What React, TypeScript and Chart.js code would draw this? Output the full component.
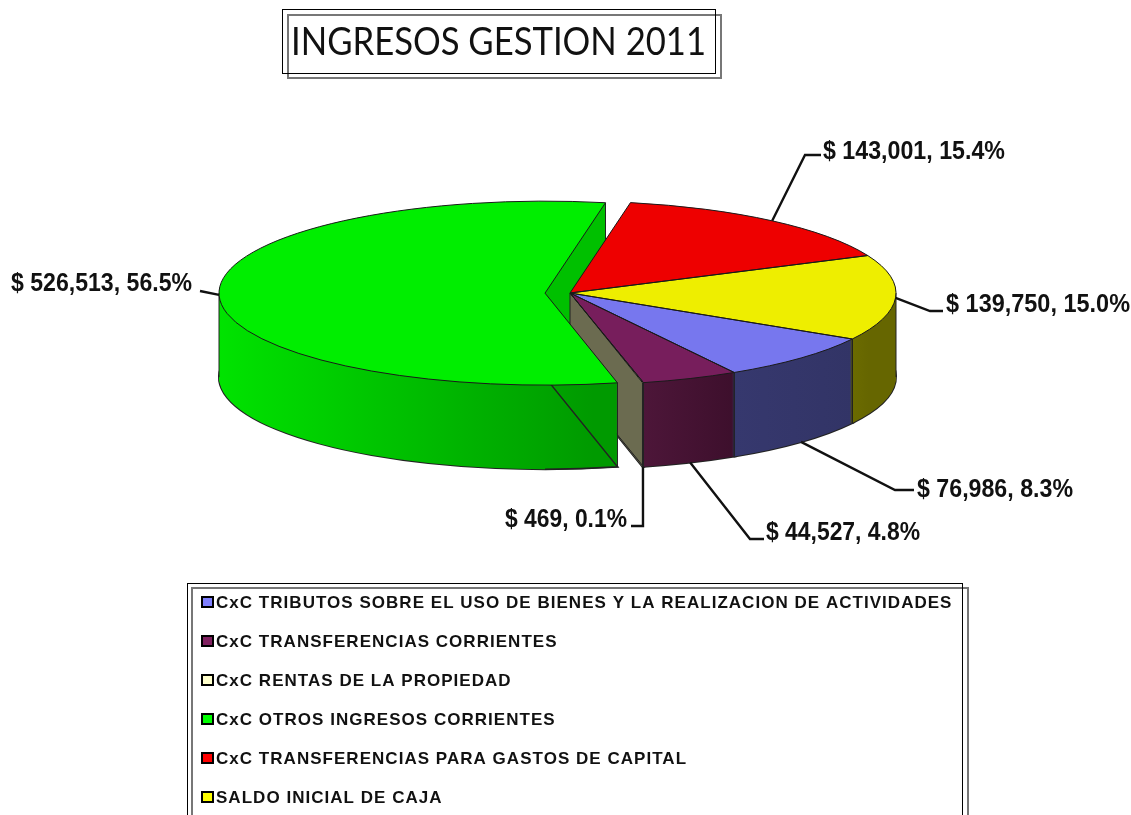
import React, { useEffect, useRef } from "react";
import { Chart, registerables } from "chart.js";

Chart.register(...registerables);

const chartTitle = "INGRESOS GESTION 2011";
const categories = [
  "CxC TRIBUTOS SOBRE EL USO DE BIENES Y LA REALIZACION DE ACTIVIDADES",
  "CxC TRANSFERENCIAS CORRIENTES",
  "CxC RENTAS DE LA PROPIEDAD",
  "CxC OTROS INGRESOS CORRIENTES",
  "CxC TRANSFERENCIAS PARA GASTOS DE CAPITAL",
  "SALDO INICIAL DE CAJA",
];
const values = [76986, 44527, 469, 526513, 143001, 139750];
const percents = ["8.3", "4.8", "0.1", "56.5", "15.4", "15.0"];

const topColors = ["#7777EE", "#771E5C", "#EEEEBE", "#00EE00", "#EE0000", "#EEEE00"];
const legendColors = ["#8080FF", "#802060", "#FFFFCC", "#00FF00", "#FF0000", "#FFFF00"];
const wallStops: string[][] = [
  ["#36386e", "#323466"],
  ["#4d1639", "#3d0f2c"],
  ["#6b6b50", "#6b6b50"],
  ["#00e800", "#009a00"],
  ["#900000", "#900000"],
  ["#6b6b00", "#666600"],
];
const explodePx = [0, 0, 0, 25, 0, 0];
const cutFaceColor = "#00C000";
const gapFaceColor = "#6b6b50";

const labelLayout = [
  { textX: 917, baseline: 497, width: 156, elbowX: 895, elbowY: 490, endX: 914 },
  { textX: 766, baseline: 540, width: 154, elbowX: 750, elbowY: 539, endX: 764 },
  { textX: 505, baseline: 527, width: 122, elbowX: 643, elbowY: 526, endX: 631 },
  { textX: 11, baseline: 291, width: 181, elbowX: 200, elbowY: 291, endX: 200 },
  { textX: 823, baseline: 159, width: 182, elbowX: 805, elbowY: 155, endX: 821 },
  { textX: 946, baseline: 312, width: 184, elbowX: 930, elbowY: 311, endX: 943 },
];

const squash = 92 / 326;
const depth = 84;
const LABEL_FONT = "bold 25px 'Liberation Sans'";
const LEGEND_FONT = "bold 17px 'Liberation Sans'";

function money(v: number) {
  return "$ " + v.toLocaleString("en-US") + ", ";
}

const pie3d = {
  id: "pie3d",
  beforeDatasetsDraw(chart: any) {
    const ctx: CanvasRenderingContext2D = chart.ctx;
    const arcs: any[] = chart.getDatasetMeta(0).data;
    const cy = arcs[0].y;

    const flat = (dy: number, fn: () => void) => {
      ctx.save();
      ctx.translate(0, cy + dy);
      ctx.scale(1, squash);
      ctx.translate(0, -cy);
      fn();
      ctx.restore();
    };
    const geom = (i: number) => {
      const a = arcs[i];
      const mid = (a.startAngle + a.endAngle) / 2;
      return {
        a,
        ox: a.x + Math.cos(mid) * explodePx[i],
        oy: cy + Math.sin(mid) * explodePx[i] * squash,
      };
    };
    const rim = (i: number, angle: number) => {
      const g = geom(i);
      return {
        x: g.ox + Math.cos(angle) * g.a.outerRadius,
        y: g.oy + Math.sin(angle) * g.a.outerRadius * squash,
      };
    };
    const drawFill = (i: number, dy: number, fill: any) => {
      const a = arcs[i];
      const mid = (a.startAngle + a.endAngle) / 2;
      const orig = a.options;
      a.options = { ...orig, backgroundColor: fill, borderWidth: 0 };
      flat(dy, () => {
        ctx.translate(Math.cos(mid) * explodePx[i], Math.sin(mid) * explodePx[i]);
        a.draw(ctx);
      });
      a.options = orig;
    };
    const slicePath = (i: number, dy: number) => {
      const a = arcs[i];
      const mid = (a.startAngle + a.endAngle) / 2;
      ctx.beginPath();
      flat(dy, () => {
        ctx.translate(Math.cos(mid) * explodePx[i], Math.sin(mid) * explodePx[i]);
        ctx.arc(a.x, a.y, a.outerRadius, a.startAngle, a.endAngle);
        ctx.lineTo(a.x, a.y);
        ctx.closePath();
      });
    };
    const vLine = (p: { x: number; y: number }) => {
      ctx.beginPath();
      ctx.moveTo(p.x, p.y);
      ctx.lineTo(p.x, p.y + depth);
      ctx.stroke();
    };

    const walls = arcs.map((a, i) => {
      const r = a.outerRadius;
      const gx0 = explodePx[i] ? a.x - r - explodePx[i] : rim(i, a.endAngle).x;
      const gx1 = rim(i, a.startAngle).x;
      const g = ctx.createLinearGradient(Math.min(gx0, gx1), 0, Math.max(gx0, gx1) + 1, 0);
      g.addColorStop(0, wallStops[i][0]);
      g.addColorStop(1, wallStops[i][1]);
      return g;
    });

    const boom = explodePx.findIndex((e) => e > 0);
    const stack = (i: number) => {
      for (let dy = depth; dy > 0; dy--) drawFill(i, dy, walls[i]);
    };

    // bottom outline
    ctx.strokeStyle = "#222";
    ctx.lineWidth = 2;
    arcs.forEach((_, i) => {
      slicePath(i, depth);
      ctx.stroke();
    });

    // stacked walls of the main body
    for (let dy = depth; dy > 0; dy--) {
      arcs.forEach((_, i) => {
        if (i !== boom) drawFill(i, dy, walls[i]);
      });
    }

    // exploded slice: walls and end cut face
    stack(boom);
    const g = geom(boom);
    const bA = arcs[boom];
    const endP = rim(boom, bA.endAngle);
    ctx.beginPath();
    ctx.moveTo(g.ox, g.oy);
    ctx.lineTo(endP.x, endP.y);
    ctx.lineTo(endP.x, endP.y + depth);
    ctx.lineTo(g.ox, g.oy + depth);
    ctx.closePath();
    ctx.fillStyle = cutFaceColor;
    ctx.fill();
    ctx.strokeStyle = "#222";
    ctx.lineWidth = 1;
    vLine(endP);

    // the face of the main body that looks into the gap
    const apex = geom(boom - 1);
    const gapP = rim(boom - 1, arcs[boom - 1].startAngle);
    ctx.beginPath();
    ctx.moveTo(apex.ox, apex.oy);
    ctx.lineTo(gapP.x, gapP.y);
    ctx.lineTo(gapP.x, gapP.y + depth);
    ctx.lineTo(apex.ox, apex.oy + depth);
    ctx.closePath();
    ctx.fillStyle = gapFaceColor;
    ctx.fill();
    ctx.beginPath();
    ctx.moveTo(gapP.x, gapP.y + depth);
    ctx.lineTo(apex.ox, apex.oy + depth);
    ctx.lineTo(apex.ox, apex.oy);
    ctx.stroke();

    // front wall of the exploded slice goes back over the gap face
    const startP = rim(boom, bA.startAngle);
    ctx.save();
    ctx.beginPath();
    ctx.rect(g.ox, startP.y - 8, startP.x - g.ox + 1, depth + 30);
    ctx.clip();
    stack(boom);
    slicePath(boom, depth);
    ctx.lineWidth = 1.5;
    ctx.stroke();
    ctx.restore();

    // vertical edges
    ctx.strokeStyle = "#222";
    ctx.lineWidth = 1;
    arcs.forEach((a, i) => {
      if (Math.sin(a.startAngle) > 0) vLine(rim(i, a.startAngle));
      if (Math.sin(a.endAngle) > 0) vLine(rim(i, a.endAngle));
      if (a.startAngle < Math.PI && a.endAngle > Math.PI) vLine(rim(i, Math.PI));
      if (a.startAngle < Math.PI * 2 && a.endAngle > Math.PI * 2) vLine(rim(i, 0));
      if (a.startAngle < 0 && a.endAngle > 0) vLine(rim(i, 0));
    });

    // top faces
    arcs.forEach((_, i) => drawFill(i, 0, topColors[i]));
    ctx.strokeStyle = "#1a1a1a";
    ctx.lineWidth = 1;
    arcs.forEach((_, i) => {
      slicePath(i, 0);
      ctx.stroke();
    });

    // leader lines and data labels
    ctx.fillStyle = "#111";
    ctx.font = LABEL_FONT;
    ctx.textAlign = "left";
    ctx.textBaseline = "alphabetic";
    arcs.forEach((a, i) => {
      const mid = (a.startAngle + a.endAngle) / 2;
      const p = rim(i, mid);
      const front = Math.sin(mid) > 0.3;
      const l = labelLayout[i];
      ctx.strokeStyle = "#111";
      ctx.lineWidth = 2.4;
      ctx.beginPath();
      ctx.moveTo(p.x, p.y + (front ? depth : 0));
      ctx.lineTo(l.elbowX, l.elbowY);
      ctx.lineTo(l.endX, l.elbowY);
      ctx.stroke();
      ctx.fillText(money(values[i]) + percents[i] + "%", l.textX, l.baseline, l.width);
    });
    return false;
  },
  afterDraw(chart: any) {
    const ctx: CanvasRenderingContext2D = chart.ctx;
    ctx.save();
    // title
    ctx.lineWidth = 2;
    ctx.strokeStyle = "#777";
    ctx.strokeRect(288, 15, 433, 63);
    ctx.lineWidth = 1;
    ctx.strokeStyle = "#000";
    ctx.strokeRect(282.5, 9.5, 433, 64);
    ctx.fillStyle = "#111";
    ctx.font = "39px Lato";
    ctx.textAlign = "left";
    ctx.textBaseline = "alphabetic";
    ctx.fillText(chartTitle, 291, 55, 415);

    // legend frame (runs past the bottom of the picture)
    ctx.lineWidth = 2;
    ctx.strokeStyle = "#777";
    ctx.strokeRect(192, 588, 776, 300);
    ctx.lineWidth = 1;
    ctx.strokeStyle = "#000";
    ctx.strokeRect(187.5, 583.5, 775, 300);

    ctx.font = LEGEND_FONT;
    (ctx as any).letterSpacing = "1.03px";
    chart.data.labels.forEach((label: string, i: number) => {
      const cy = 602 + i * 39;
      ctx.fillStyle = legendColors[i];
      ctx.fillRect(202, cy - 5, 11, 10);
      ctx.strokeStyle = "#000";
      ctx.lineWidth = 2;
      ctx.strokeRect(202, cy - 5, 11, 10);
      ctx.fillStyle = "#111";
      ctx.fillText(label, 216, cy + 6);
    });
    ctx.restore();
  },
};

export default function App() {
  const ref = useRef<HTMLCanvasElement | null>(null);
  useEffect(() => {
    const chart = new Chart(ref.current as HTMLCanvasElement, {
      type: "pie",
      data: {
        labels: categories,
        datasets: [{ data: values, backgroundColor: topColors, borderWidth: 0 }],
      },
      options: {
        responsive: false,
        animation: false,
        rotation: 120,
        radius: 326,
        layout: { padding: { left: 9, right: 0, top: 0, bottom: 229 } },
        plugins: { legend: { display: false }, tooltip: { enabled: false }, title: { display: false } },
      },
      plugins: [pie3d],
    } as any);
    return () => chart.destroy();
  }, []);
  return (
    <div style={{ position: "absolute", left: 0, top: 0, width: 1131, height: 815, overflow: "hidden", background: "#fff" }}>
      <canvas ref={ref} width={1131} height={815} style={{ display: "block" }} />
    </div>
  );
}
